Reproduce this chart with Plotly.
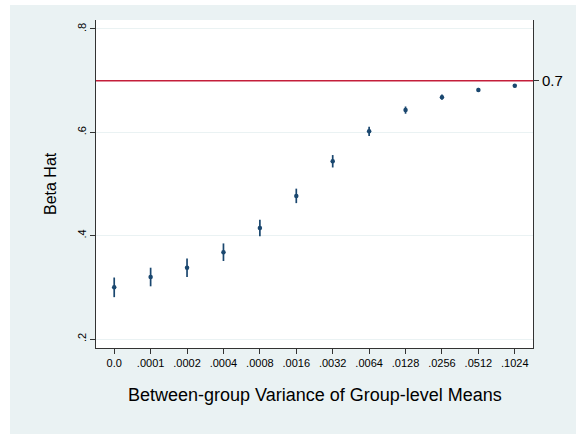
import plotly.graph_objects as go

categories = ["0.0", ".0001", ".0002", ".0004", ".0008", ".0016", ".0032",
              ".0064", ".0128", ".0256", ".0512", ".1024"]
beta_hat = [0.300, 0.320, 0.338, 0.368, 0.415, 0.477, 0.544,
            0.602, 0.643, 0.668, 0.682, 0.690]
ci_half = [0.019, 0.018, 0.018, 0.017, 0.016, 0.014, 0.012,
           0.009, 0.007, 0.005, 0.004, 0.003]
y_ticks = [0.2, 0.4, 0.6, 0.8]
y_ticktext = [".2", ".4", ".6", ".8"]
ref_value = 0.7
ref_label = "0.7"

NAVY = "#1A476F"
BG = "#EAF2F3"
FONT = "Liberation Sans, Arial, sans-serif"

fig = go.Figure()
fig.add_trace(go.Scatter(
    x=categories, y=beta_hat, mode="markers",
    marker=dict(color=NAVY, size=4.5),
    error_y=dict(type="data", array=ci_half, visible=True,
                 color=NAVY, thickness=1.7, width=0),
    showlegend=False, hoverinfo="x+y",
))
# invisible trace on second y axis so it renders
fig.add_trace(go.Scatter(x=[categories[0]], y=[ref_value], yaxis="y2",
                         mode="markers", marker=dict(opacity=0),
                         showlegend=False, hoverinfo="skip"))

yr = [0.1826, 0.8174]
fig.update_layout(
    width=576, height=434,
    margin=dict(l=96, r=43, t=20, b=86),
    paper_bgcolor=BG, plot_bgcolor="white",
    font=dict(family=FONT, color="black", size=11),
    xaxis=dict(type="category", range=[-0.5, 11.5], showline=True,
               linecolor="#333333", linewidth=1, ticks="outside",
               ticklen=5, tickcolor="#333333", showgrid=False,
               tickfont=dict(size=11), zeroline=False, mirror=False),
    yaxis=dict(range=yr, tickvals=y_ticks, ticktext=y_ticktext,
               showline=True, linecolor="#333333", linewidth=1,
               ticks="outside", ticklen=5, tickcolor="#333333",
               showgrid=True, gridcolor=BG, gridwidth=1.2,
               tickangle=-90, tickfont=dict(size=11), zeroline=False),
    yaxis2=dict(range=yr, overlaying="y", side="right",
                tickvals=[ref_value], ticktext=[ref_label],
                showline=True, linecolor="#333333", linewidth=1,
                ticks="outside", ticklen=5, tickcolor="#333333",
                showgrid=False, zeroline=False, tickfont=dict(size=15)),
    shapes=[
        dict(type="line", xref="paper", yref="y", x0=0, x1=1,
             y0=ref_value, y1=ref_value,
             line=dict(color="#C41E3A", width=1.5)),
        # white page border outside the graph region
        dict(type="rect", xref="paper", yref="paper",
             x0=-96/437, x1=(10-96)/437, y0=-86/328, y1=1+20/328,
             fillcolor="white", line=dict(width=0), layer="above"),
        dict(type="rect", xref="paper", yref="paper",
             x0=-96/437, x1=1+43/437, y0=1+15/328, y1=1+20/328,
             fillcolor="white", line=dict(width=0), layer="above"),
    ],
    annotations=[
        dict(text="Between-group Variance of Group-level Means",
             xref="paper", yref="paper", x=0.5,
             y=(348-395)/328, xanchor="center", yanchor="middle",
             showarrow=False, font=dict(size=18, family=FONT)),
        dict(text="Beta Hat", xref="paper", yref="paper",
             x=(50-96)/437, y=0.5, textangle=-90,
             xanchor="center", yanchor="middle", showarrow=False,
             font=dict(size=16, family=FONT)),
    ],
)

fig.write_html("out.html")
